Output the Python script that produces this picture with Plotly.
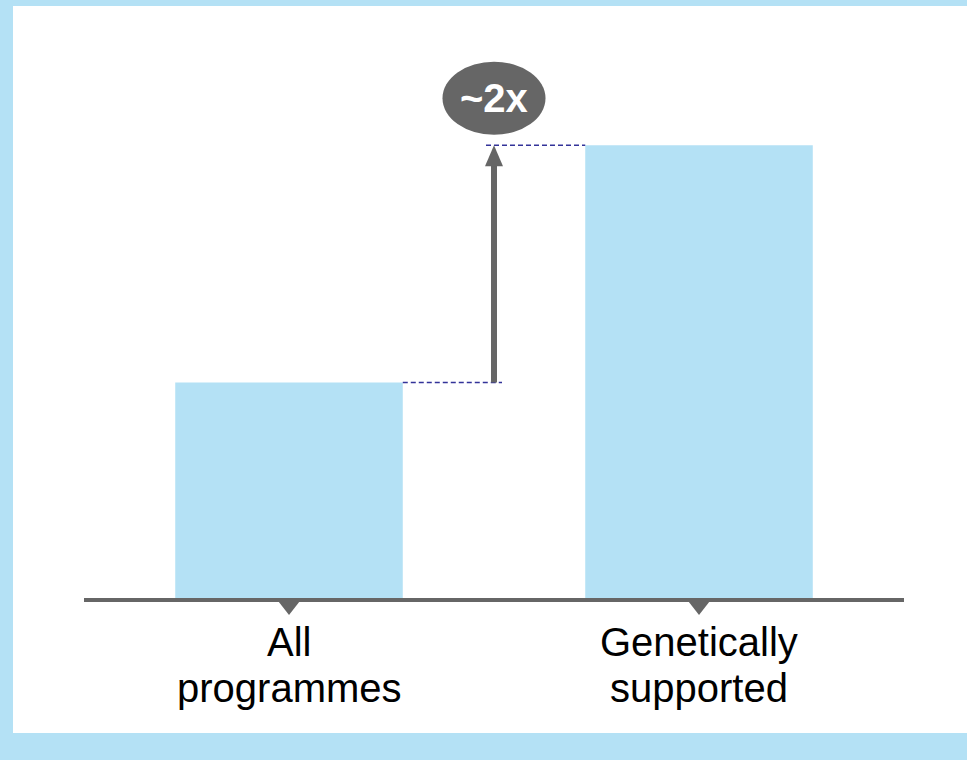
import plotly.graph_objects as go

# ---- data ----
categories = ["All programmes", "Genetically supported"]
values = [1.0, 2.1]
tick_lines = [["All", "programmes"], ["Genetically", "supported"]]
ratio_label = "~2x"

# ---- style ----
BLUE = "#B4E1F5"
GREY = "#666666"
NAVY = "#333399"
FONT = "Liberation Sans, Arial, sans-serif"
W, H = 967, 760
ML, MR, MT, MB = 84, 63, 59, 162
YMAX = 2.5
plot_h = H - MT - MB
upp = YMAX / plot_h  # data units per pixel
bar_w = 0.555

fig = go.Figure()
fig.add_trace(go.Bar(x=categories, y=values, width=bar_w,
                     marker=dict(color=BLUE, line=dict(width=0)),
                     hoverinfo="skip"))

shapes = []
# white panel over light-blue background
shapes.append(dict(type="rect", xref="paper", yref="paper",
                   x0=(13 - ML) / (W - ML - MR), x1=1.2,
                   y0=-(733 - (H - MB)) / plot_h, y1=1 + (MT - 6) / plot_h,
                   fillcolor="white", line=dict(width=0), layer="below"))
# small triangle tick markers below the axis
for i, _ in enumerate(categories):
    shapes.append(dict(type="path", xref="x", yref="paper",
                       xsizemode="pixel", ysizemode="pixel",
                       xanchor=i, yanchor=0,
                       path="M -12.5 -1 L 12.5 -1 L 0 -17 Z",
                       fillcolor=GREY, line=dict(width=0)))
# dashed connectors
mid = 0.5
ext = 8 * (2.0 / (W - ML - MR))
shapes.append(dict(type="line", xref="x", yref="y",
                   x0=0 + bar_w / 2, x1=mid + ext, y0=values[0], y1=values[0],
                   line=dict(color=NAVY, width=1.5, dash="5px,3px")))
shapes.append(dict(type="line", xref="x", yref="y",
                   x0=mid - ext, x1=1 - bar_w / 2, y0=values[1], y1=values[1],
                   line=dict(color=NAVY, width=1.5, dash="5px,3px")))
# arrow shaft
shapes.append(dict(type="line", xref="x", yref="y",
                   x0=mid, x1=mid, y0=values[0], y1=values[1] - 12 * upp,
                   line=dict(color=GREY, width=6)))
# arrow head
shapes.append(dict(type="path", xref="x", yref="y",
                   xsizemode="pixel", ysizemode="pixel",
                   xanchor=mid, yanchor=values[1],
                   path="M 0 0 L 9 -21 L -9 -21 Z",
                   fillcolor=GREY, line=dict(width=0)))
# ellipse label
label_y = values[1] + 47 * upp
shapes.append(dict(type="circle", xref="x", yref="y",
                   xsizemode="pixel", ysizemode="pixel",
                   xanchor=mid, yanchor=label_y,
                   x0=-51.5, x1=51.5, y0=-36.5, y1=36.5,
                   fillcolor=GREY, line=dict(width=0)))

annotations = [dict(x=mid, y=label_y, xref="x", yref="y", text="<b>%s</b>" % ratio_label,
                    showarrow=False, font=dict(family=FONT, size=40, color="white"),
                    xanchor="center", yanchor="middle")]
for cat, lines in zip(categories, tick_lines):
    txt = "<br>".join('<span style="font-size:40px">%s</span>' % ln for ln in lines)
    annotations.append(dict(x=cat, y=0, xref="x", yref="paper", text=txt,
                            showarrow=False, xanchor="center", yanchor="middle",
                            yshift=-67, align="center",
                            font=dict(family=FONT, size=35, color="black")))

fig.update_layout(
    width=W, height=H,
    margin=dict(l=ML, r=MR, t=MT, b=MB),
    paper_bgcolor=BLUE, plot_bgcolor="rgba(0,0,0,0)",
    showlegend=False,
    xaxis=dict(range=[-0.5, 1.5], showline=True, linecolor=GREY, linewidth=4,
               ticks="", showticklabels=False, showgrid=False, zeroline=False,
               fixedrange=True),
    yaxis=dict(range=[0, YMAX], visible=False, showgrid=False, zeroline=False,
               fixedrange=True),
    shapes=shapes, annotations=annotations,
)

fig.write_html("out.html", config={"displayModeBar": False},
               post_script="document.body.style.margin='0';document.body.style.overflow='hidden';")
